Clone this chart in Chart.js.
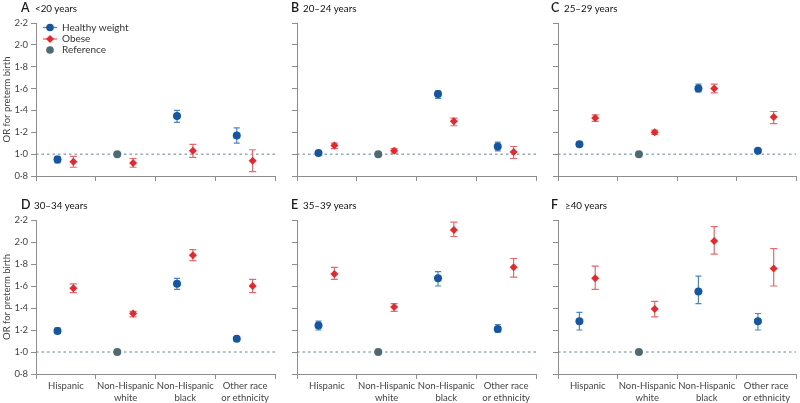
<!DOCTYPE html>
<html><head><meta charset="utf-8">
<script src="https://cdn.jsdelivr.net/npm/chart.js@4"></script>
<style>
html,body{margin:0;padding:0;background:#fff;}
#wrap{position:relative;width:800px;height:403px;overflow:hidden;font-family:Lato,"Noto Sans",sans-serif;}
#wrap canvas{position:absolute;left:0;top:0;}
.pl{position:absolute;font-size:12.5px;font-weight:600;color:#1a1a1a;line-height:1;}
.pt{position:absolute;font-size:9.8px;color:#111;line-height:1;white-space:nowrap;}
</style></head>
<body><div id="wrap"></div>
<script>
// ---------- data ----------
const categories = ['Hispanic', ['Non-Hispanic', 'white'], ['Non-Hispanic', 'black'], ['Other race', 'or ethnicity']];
const panelLetters = ['A', 'B', 'C', 'D', 'E', 'F'];
const panelTitles = ['<20 years', '20–24 years', '25–29 years', '30–34 years', '35–39 years', '≥40 years'];
const yTicks = [0.8, 1.0, 1.2, 1.4, 1.6, 1.8, 2.0, 2.2];
const seriesNames = ['Healthy weight', 'Obese', 'Reference'];
const referenceOR = 1.0;
const referenceIndex = 1;
// OR per panel, per category (null = reference group)
const healthyOR   = [[0.95, null, 1.35, 1.17], [1.01, null, 1.55, 1.07], [1.09, null, 1.60, 1.03], [1.19, null, 1.62, 1.12], [1.24, null, 1.67, 1.21], [1.28, null, 1.55, 1.28]];
const healthyLow  = [[0.92, null, 1.29, 1.10], [0.99, null, 1.51, 1.03], [1.08, null, 1.57, 1.02], [1.17, null, 1.57, 1.10], [1.20, null, 1.60, 1.18], [1.20, null, 1.44, 1.20]];
const healthyHigh = [[0.98, null, 1.40, 1.24], [1.02, null, 1.58, 1.11], [1.11, null, 1.64, 1.05], [1.22, null, 1.67, 1.14], [1.28, null, 1.73, 1.25], [1.36, null, 1.69, 1.35]];
const obeseOR   = [[0.93, 0.92, 1.03, 0.94], [1.08, 1.03, 1.30, 1.02], [1.33, 1.20, 1.60, 1.34], [1.58, 1.35, 1.88, 1.60], [1.71, 1.41, 2.11, 1.77], [1.67, 1.39, 2.01, 1.76]];
const obeseLow  = [[0.88, 0.88, 0.97, 0.84], [1.05, 1.01, 1.26, 0.96], [1.30, 1.18, 1.56, 1.28], [1.54, 1.32, 1.83, 1.54], [1.66, 1.37, 2.05, 1.68], [1.57, 1.32, 1.89, 1.60]];
const obeseHigh = [[0.98, 0.96, 1.09, 1.04], [1.10, 1.05, 1.33, 1.07], [1.36, 1.22, 1.64, 1.39], [1.62, 1.37, 1.93, 1.66], [1.77, 1.44, 2.18, 1.85], [1.78, 1.46, 2.14, 1.94]];

// ---------- style / layout ----------
const W = 800, H = 403;
const BLUE = '#1456a2', BLUE_ERR = '#4a83c6';
const RED = '#e8262b', RED_ERR = '#f0656a';
const REF = '#4c6a73', DASH = '#5f8394';
const AXIS = '#8d8d8d', TXT = '#444';
const OFF_H = -0.14, OFF_O = 0.125;
const boxes = [
  {left: 36, right: 275, top: 23, bottom: 176}, {left: 297, right: 536, top: 23, bottom: 176}, {left: 558, right: 797, top: 23, bottom: 176},
  {left: 36, right: 275, top: 220, bottom: 374}, {left: 297, right: 536, top: 220, bottom: 374}, {left: 558, right: 797, top: 220, bottom: 374}
];
const titlePos = [[21, 35, 8], [291, 303, 8], [551, 564, 8], [21, 34, 205], [291, 303, 205], [551, 565, 205]];

Chart.defaults.font.family = 'Lato, "Noto Sans", sans-serif';
Chart.defaults.font.size = 9.5;
Chart.defaults.color = TXT;

const fmt = v => v.toFixed(1).replace('.', '·');

const errorBars = {
  id: 'errorBars',
  afterDatasetDraw(chart, args) {
    if (args.index !== chart.data.datasets.length - 1) return;
    const ys = chart.scales.y, ctx = chart.ctx;
    chart.data.datasets.forEach((ds, di) => {
      if (!ds.errColor) return;
      const meta = chart.getDatasetMeta(di);
      meta.data.forEach((el, j) => {
        const raw = ds.data[j];
        if (raw.lo == null) return;
        const x = el.x, y1 = ys.getPixelForValue(raw.lo), y2 = ys.getPixelForValue(raw.hi);
        ctx.save();
        ctx.strokeStyle = ds.errColor;
        ctx.lineWidth = 1.2;
        ctx.beginPath();
        ctx.moveTo(x, y1); ctx.lineTo(x, y2);
        ctx.moveTo(x - ds.capW, y1); ctx.lineTo(x + ds.capW, y1);
        ctx.moveTo(x - ds.capW, y2); ctx.lineTo(x + ds.capW, y2);
        ctx.stroke();
        ctx.restore();
      });
    });
  }
};

const legendPlugin = {
  id: 'customLegend',
  afterDraw(chart, args, opts) {
    if (!opts.show) return;
    const ctx = chart.ctx, ca = chart.chartArea;
    const x0 = ca.left + 7, mx = ca.left + 14, tx = ca.left + 26;
    const rows = [ca.top + 4.5, ca.top + 16, ca.top + 27];
    ctx.save();
    // healthy
    ctx.strokeStyle = BLUE_ERR; ctx.lineWidth = 1.3;
    ctx.beginPath(); ctx.moveTo(x0, rows[0]); ctx.lineTo(x0 + 14, rows[0]); ctx.stroke();
    ctx.fillStyle = BLUE; ctx.beginPath(); ctx.arc(mx, rows[0], 3.8, 0, Math.PI * 2); ctx.fill();
    // obese
    ctx.strokeStyle = RED_ERR;
    ctx.beginPath(); ctx.moveTo(x0, rows[1]); ctx.lineTo(x0 + 14, rows[1]); ctx.stroke();
    ctx.fillStyle = RED; ctx.beginPath();
    ctx.moveTo(mx, rows[1] - 4); ctx.lineTo(mx + 4, rows[1]); ctx.lineTo(mx, rows[1] + 4); ctx.lineTo(mx - 4, rows[1]); ctx.closePath(); ctx.fill();
    // reference
    ctx.fillStyle = REF; ctx.beginPath(); ctx.arc(mx, rows[2], 3.8, 0, Math.PI * 2); ctx.fill();
    ctx.fillStyle = '#333';
    ctx.font = '10px Lato, "Noto Sans", sans-serif';
    ctx.textBaseline = 'middle'; ctx.textAlign = 'left';
    seriesNames.forEach((n, i) => ctx.fillText(n, tx, rows[i]));
    ctx.restore();
  }
};

const wrap = document.getElementById('wrap');

for (let p = 0; p < 6; p++) {
  const box = boxes[p];
  const col = p % 3, row = p < 3 ? 0 : 1;
  const showY = col === 0, showX = row === 1;
  const yW = showY ? 36 : 10;
  const xH = showX ? 29 : 10;

  const healthy = [], obese = [];
  for (let i = 0; i < categories.length; i++) {
    if (healthyOR[p][i] != null) healthy.push({x: i + 0.5 + OFF_H, y: healthyOR[p][i], lo: healthyLow[p][i], hi: healthyHigh[p][i]});
    if (obeseOR[p][i] != null) obese.push({x: i + 0.5 + OFF_O, y: obeseOR[p][i], lo: obeseLow[p][i], hi: obeseHigh[p][i]});
  }

  const cv = document.createElement('canvas');
  cv.width = W; cv.height = H;
  cv.style.width = W + 'px'; cv.style.height = H + 'px';
  wrap.appendChild(cv);

  new Chart(cv, {
    type: 'scatter',
    data: {
      datasets: [
        {label: seriesNames[0], data: healthy, xAxisID: 'xv', yAxisID: 'y', pointStyle: 'circle', pointRadius: 4, pointHoverRadius: 4,
          backgroundColor: BLUE, borderColor: BLUE, borderWidth: 0, errColor: BLUE_ERR, capW: 3},
        {label: seriesNames[1], data: obese, xAxisID: 'xv', yAxisID: 'y', pointStyle: 'rectRot', pointRadius: 4, pointHoverRadius: 4,
          backgroundColor: RED, borderColor: RED, borderWidth: 0, errColor: RED_ERR, capW: 3.5},
        {label: seriesNames[2], data: [{x: referenceIndex + 0.5 + OFF_H, y: referenceOR}], xAxisID: 'xv', yAxisID: 'y', pointStyle: 'circle', pointRadius: 4, pointHoverRadius: 4,
          backgroundColor: REF, borderColor: REF, borderWidth: 0},
        {type: 'line', label: 'ref line', data: [{x: 0, y: referenceOR}, {x: categories.length, y: referenceOR}], xAxisID: 'xv', yAxisID: 'y',
          borderColor: DASH, borderWidth: 1, borderDash: [2.5, 3], pointRadius: 0, fill: false}
      ]
    },
    options: {
      responsive: false,
      animation: false,
      devicePixelRatio: 1,
      events: [],
      layout: {padding: {left: box.left - yW, right: W - box.right, top: box.top, bottom: H - box.bottom - xH}},
      plugins: {legend: {display: false}, tooltip: {enabled: false}, customLegend: {show: p === 0}},
      scales: {
        x: {
          type: 'category', labels: categories, offset: true, position: 'bottom',
          grid: {offset: true, drawOnChartArea: false, drawTicks: true, tickLength: 5, color: AXIS, lineWidth: 1},
          border: {color: AXIS, width: 1},
          ticks: {display: showX, padding: 1, maxRotation: 0, autoSkip: false, color: TXT, font: {size: 9.5, lineHeight: 1.25}},
          afterFit: s => { s.height = xH; }
        },
        xv: {type: 'linear', display: false, min: 0, max: categories.length},
        y: {
          type: 'linear', position: 'left', min: yTicks[0], max: yTicks[yTicks.length - 1],
          afterBuildTicks: s => { s.ticks = yTicks.map(v => ({value: v})); },
          grid: {drawOnChartArea: false, drawTicks: true, tickLength: 5, color: AXIS, lineWidth: 1},
          border: {color: AXIS, width: 1},
          ticks: {display: showY, padding: 3, color: TXT, callback: v => fmt(v), font: {size: 9.5}},
          title: {display: showY, text: 'OR for preterm birth', color: TXT, font: {size: 9.5}, padding: {top: 1, bottom: 0}},
          afterFit: s => { s.width = yW; }
        }
      }
    },
    plugins: [errorBars, legendPlugin]
  });

  const tp = titlePos[p];
  const l = document.createElement('div');
  l.className = 'pl'; l.textContent = panelLetters[p];
  l.style.left = tp[0] + 'px'; l.style.top = (tp[2] - 6) + 'px';
  wrap.appendChild(l);
  const t = document.createElement('div');
  t.className = 'pt'; t.textContent = panelTitles[p];
  t.style.left = tp[1] + 'px'; t.style.top = (tp[2] - 4.5) + 'px';
  wrap.appendChild(t);
}
</script>
</body></html>
